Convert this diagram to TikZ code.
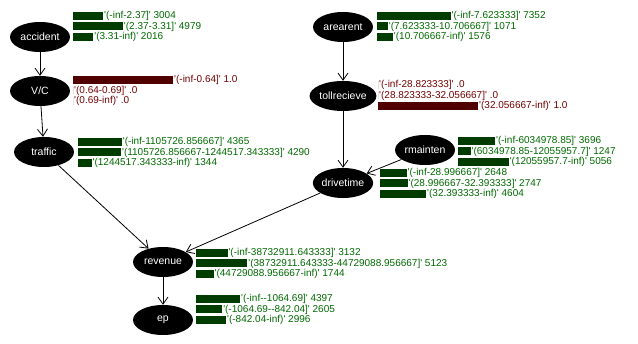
\documentclass[tikz,border=0pt]{standalone}
\usepackage{fontspec}
\newfontfamily\tabfont{Liberation Sans}
\usetikzlibrary{arrows.meta,shapes.geometric,positioning}

\definecolor{wgreen}{RGB}{0,105,0}
\definecolor{wgreenbar}{RGB}{0,60,0}
\definecolor{wred}{RGB}{115,0,0}
\definecolor{wredbar}{RGB}{80,0,0}

\tikzset{
  var/.style={ellipse,fill=black,text=white,minimum width=60pt,minimum height=30pt,inner sep=0pt,font=\tabfont\fontsize{10.5}{11}\selectfont},
  bar/.style={fill=wgreenbar,inner sep=0pt,minimum height=8pt,anchor=west},
  redbar/.style={bar,fill=wredbar},
  val/.style={text=wgreen,inner sep=0.6pt,font=\tabfont\fontsize{10}{10}\selectfont},
  redval/.style={val,text=wred},
  link/.style={-{Straight Barb[length=7pt,width=10pt]},line width=0.8pt}
}

\begin{document}
\begin{tikzpicture}[x=1pt,y=-1pt]
\useasboundingbox (0,0) rectangle (638,344);

\node[var] (accident) at (40,37) {accident};
\node[var] (vc) at (40,91) {V/C};
\node[var] (traffic) at (44,152) {traffic};
\node[var] (arearent) at (343,27) {arearent};
\node[var] (tollrecieve) at (343,96) {tollrecieve};
\node[var] (rmainten) at (425,150) {rmainten};
\node[var] (drivetime) at (343,183) {drivetime};
\node[var] (revenue) at (163,262) {revenue};
\node[var] (ep) at (163,320) {ep};

% distribution tables
\foreach \w/\t [count=\n] in {30.04/{'(-inf-2.37]' 3004},49.79/{'(2.37-3.31]' 4979},20.16/{'(3.31-inf)' 2016}}{
  \node[bar,minimum width=\w pt] (accB\n) at (73,{16+10.5*(\n-1)}) {};
  \node[val,right=0pt of accB\n] (accT\n) {\t};
}
\foreach \w/\t [count=\n] in {100/{'(-inf-0.64]' 1.0},0/{'(0.64-0.69]' .0},0/{'(0.69-inf)' .0}}{
  \node[redbar,minimum width=\w pt] (vcB\n) at (73,{80+10.5*(\n-1)}) {};
  \node[redval,right=0pt of vcB\n] (vcT\n) {\t};
}
\foreach \w/\t [count=\n] in {43.65/{'(-inf-1105726.856667]' 4365},42.90/{'(1105726.856667-1244517.343333]' 4290},13.44/{'(1244517.343333-inf)' 1344}}{
  \node[bar,minimum width=\w pt] (trB\n) at (78,{142+10.5*(\n-1)}) {};
  \node[val,right=0pt of trB\n] (trT\n) {\t};
}
\foreach \w/\t [count=\n] in {73.52/{'(-inf-7.623333]' 7352},10.71/{'(7.623333-10.706667]' 1071},15.76/{'(10.706667-inf)' 1576}}{
  \node[bar,minimum width=\w pt] (arB\n) at (377,{16+10.5*(\n-1)}) {};
  \node[val,right=0pt of arB\n] (arT\n) {\t};
}
\foreach \w/\t [count=\n] in {0/{'(-inf-28.823333]' .0},0/{'(28.823333-32.056667]' .0},100/{'(32.056667-inf)' 1.0}}{
  \node[redbar,minimum width=\w pt] (toB\n) at (378,{85+10.5*(\n-1)}) {};
  \node[redval,right=0pt of toB\n] (toT\n) {\t};
}
\foreach \w/\t [count=\n] in {36.96/{'(-inf-6034978.85]' 3696},12.47/{'(6034978.85-12055957.7]' 1247},50.56/{'(12055957.7-inf)' 5056}}{
  \node[bar,minimum width=\w pt] (rmB\n) at (458,{141+10.5*(\n-1)}) {};
  \node[val,right=0pt of rmB\n] (rmT\n) {\t};
}
\foreach \w/\t [count=\n] in {26.48/{'(-inf-28.996667]' 2648},27.47/{'(28.996667-32.393333]' 2747},46.04/{'(32.393333-inf)' 4604}}{
  \node[bar,minimum width=\w pt] (drB\n) at (380,{173+10.5*(\n-1)}) {};
  \node[val,right=0pt of drB\n] (drT\n) {\t};
}
\foreach \w/\t [count=\n] in {31.32/{'(-inf-38732911.643333]' 3132},51.23/{'(38732911.643333-44729088.956667]' 5123},17.44/{'(44729088.956667-inf)' 1744}}{
  \node[bar,minimum width=\w pt] (reB\n) at (196,{253+10.5*(\n-1)}) {};
  \node[val,right=0pt of reB\n] (reT\n) {\t};
}
\foreach \w/\t [count=\n] in {43.97/{'(-inf-{}-1064.69]' 4397},26.05/{'(-1064.69-{}-842.04]' 2605},29.96/{'(-842.04-inf)' 2996}}{
  \node[bar,minimum width=\w pt] (epB\n) at (196,{299+10.5*(\n-1)}) {};
  \node[val,right=0pt of epB\n] (epT\n) {\t};
}

\draw[link] (accident) -- (vc);
\draw[link] (vc) -- (traffic);
\draw[link] (traffic) -- (revenue);
\draw[link] (arearent) -- (tollrecieve);
\draw[link] (tollrecieve) -- (drivetime);
\draw[link] (rmainten) -- (drivetime);
\draw[link] (drivetime) -- (revenue);
\draw[link] (revenue) -- (ep);
\end{tikzpicture}
\end{document}
